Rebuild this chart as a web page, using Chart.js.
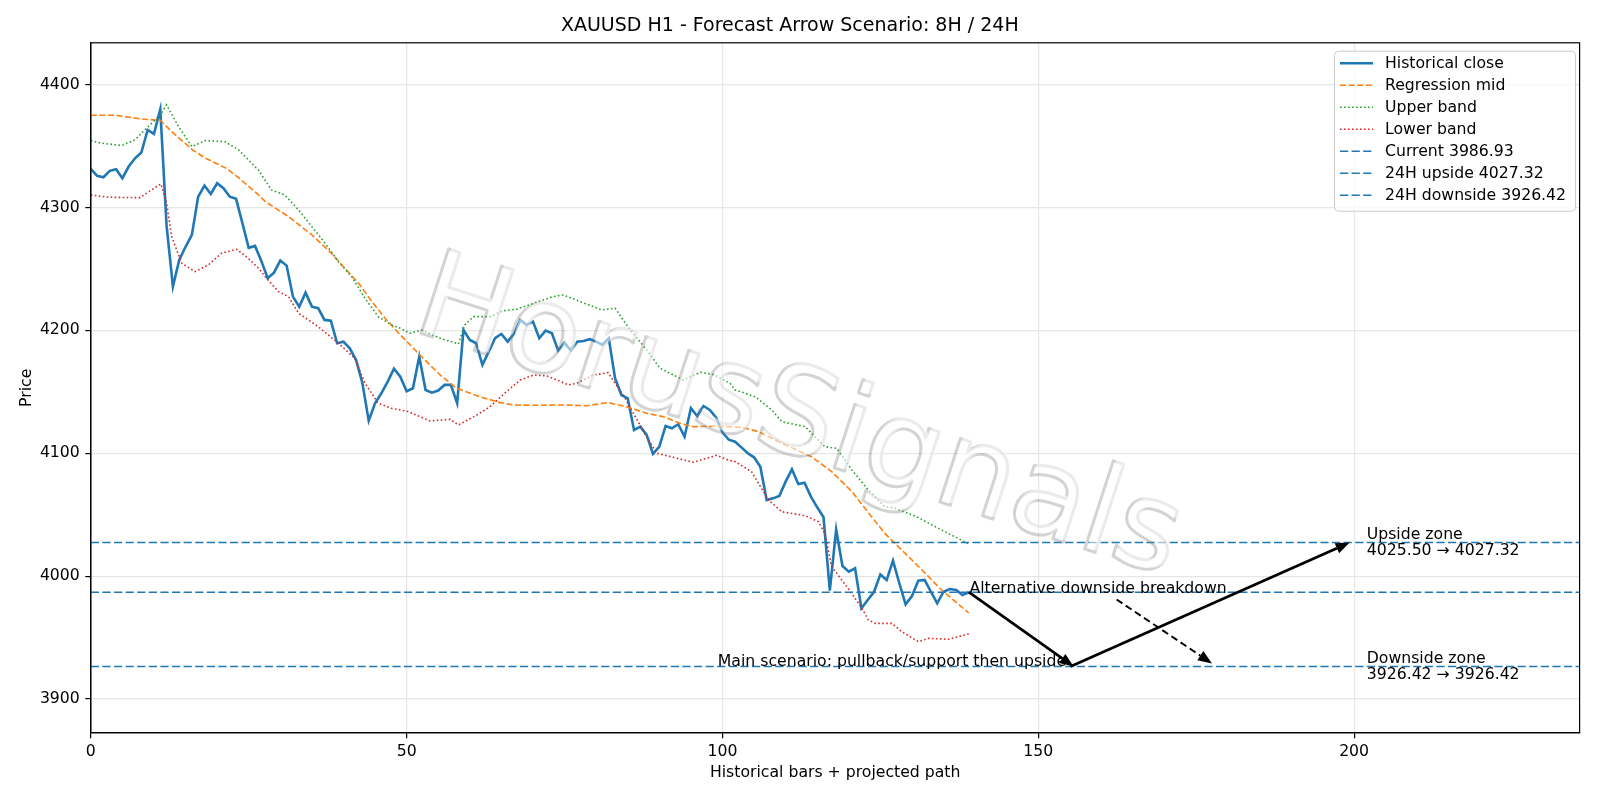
<!DOCTYPE html>
<html>
<head>
<meta charset="utf-8">
<title>XAUUSD H1 forecast</title>
<script src="https://cdn.jsdelivr.net/npm/chart.js@4.4.1/dist/chart.umd.min.js"></script>
<style>
  html, body { margin: 0; padding: 0; background: #fff; }
</style>
</head>
<body>
<canvas id="myChart" width="1600" height="800"></canvas>
<script>
"use strict";

// ---- data ----
var closeY = [
  4331.4, 4325.7, 4324.6, 4329.8, 4331.1, 4323.8, 4333.3, 4340.0, 4344.7, 4363.1,
  4359.9, 4380.0, 4285.0, 4235.6, 4257.3, 4268.0, 4277.7, 4308.8, 4317.8, 4311.0,
  4319.7, 4315.7, 4308.8, 4307.0, 4287.2, 4267.2, 4268.7, 4256.5, 4242.4, 4247.0,
  4256.8, 4252.7, 4227.5, 4219.3, 4230.7, 4219.3, 4218.0, 4208.5, 4207.9, 4189.5,
  4190.8, 4185.4, 4175.9, 4157.0, 4126.5, 4140.7, 4148.8, 4158.3, 4168.9, 4162.3,
  4150.5, 4152.9, 4178.6, 4151.5, 4149.3, 4151.0, 4155.6, 4155.6, 4140.7, 4200.3,
  4192.2, 4189.5, 4171.9, 4182.7, 4193.6, 4197.1, 4190.8, 4197.1, 4208.5, 4204.4,
  4207.1, 4193.6, 4199.8, 4197.6, 4183.5, 4190.0, 4183.5, 4190.8, 4191.4, 4192.8,
  4190.8, 4188.1, 4193.6, 4161.0, 4147.4, 4144.7, 4118.9, 4121.6, 4114.9, 4099.4,
  4105.4, 4122.2, 4120.3, 4123.6, 4113.5, 4136.6, 4130.3, 4138.5, 4135.2, 4129.0,
  4117.0, 4111.0, 4109.4, 4104.8, 4100.0, 4096.7, 4089.0, 4061.9, 4063.3, 4065.2,
  4076.9, 4086.9, 4075.0, 4076.1, 4064.7, 4056.0, 4047.9, 3988.2, 4038.0, 4008.2,
  4003.6, 4006.4, 3973.8, 3980.6, 3987.3, 4001.4, 3996.9, 4012.6, 3994.2, 3977.0,
  3983.8, 3996.3, 3996.9, 3987.3, 3977.9, 3987.3, 3989.5, 3988.7, 3984.6, 3986.93
];

var midX = [0, 4, 8, 11, 12.8, 16.1, 18.2, 21.4, 23.5, 24.4, 26.9, 27.6, 31.3, 35, 38.1, 40.2, 42.4, 44.5,
  46.6, 49, 50.3, 52.1, 55.3, 57.9, 61.6, 64.8, 66.9, 70, 74.3, 78.5, 81.9, 84.8, 88, 90.6, 93.3, 95.4,
  98.8, 100.7, 103.1, 105.7, 109.4, 114.1, 117.3, 120.5, 123.6, 125.7, 127.3, 131.6, 134.7, 139];
var midY = [4375, 4375, 4372, 4371, 4361.7, 4346.9, 4340, 4332, 4323.8, 4319.7, 4308.8, 4304.8, 4292.6, 4277.7,
  4262.8, 4250.6, 4238.3, 4223.4, 4209.9, 4196.3, 4189.5, 4180, 4163.7, 4152.9, 4146, 4141.2, 4139.3, 4139,
  4139.3, 4138.7, 4141.2, 4137.9, 4132.5, 4129.8, 4124.4, 4121.6, 4122, 4121.6, 4121.1, 4117.6, 4108.1,
  4097.2, 4085, 4068.7, 4048.4, 4034.8, 4026.7, 4005, 3988.7, 3970];

var upperX = [0, 1.7, 4.9, 7, 8.8, 11, 12, 13.9, 16, 18.1, 21.2, 23.4, 26.6, 28.6, 30.7, 32.9, 35, 37.1, 39.2,
  41.3, 43.4, 45.5, 47.6, 49, 50.5, 52.4, 55.3, 58.2, 59.2, 60.6, 63.2, 65.3, 67.4, 70.1, 73.2, 74.8, 77.5,
  80.9, 83, 85.4, 88, 90.1, 93.8, 96.5, 98.6, 101.2, 102, 105.2, 107.8, 109.4, 113.1, 116.2, 118.1, 120.5,
  123.1, 125.7, 127.3, 130.5, 134.7, 139];
var upperY = [4354.4, 4352.3, 4350.4, 4355, 4364.5, 4375.3, 4383.5, 4365.8, 4349.5, 4354.4, 4353.6, 4346.9,
  4330, 4314.3, 4310.2, 4298, 4284.4, 4270.9, 4255.9, 4243.7, 4226.1, 4211.2, 4204.4, 4201.7, 4197.6, 4200.3,
  4193.6, 4188.9, 4204.4, 4211.2, 4211.2, 4216, 4217.2, 4222, 4227.5, 4228.8, 4223.4, 4216.6, 4218, 4200.3,
  4184.1, 4169.2, 4159.6, 4165.9, 4164, 4156.9, 4151.5, 4146, 4135.2, 4125.7, 4121.6, 4105.4, 4104, 4086.4,
  4070.1, 4056.5, 4055.2, 4048.9, 4037.6, 4026.2];

var lowerX = [0, 2.8, 7.8, 9.6, 11.1, 12, 12.8, 14.4, 16.5, 18.6, 20.7, 23.1, 24.9, 26.8, 27.6, 29.7, 31.3,
  32.9, 36, 39.2, 41.8, 43.4, 45.5, 47.6, 50.3, 51.1, 53.7, 56.9, 58.2, 61.1, 63.2, 65.8, 68, 70.1, 72.2,
  73.8, 75.6, 76.9, 79.6, 81.9, 83, 84.3, 85.9, 88, 89.6, 92.2, 95.4, 99.1, 100.9, 102, 104.6, 107.3, 109.4,
  113.1, 115.2, 116.2, 117.3, 119.9, 122.1, 123.1, 124.2, 126.8, 128.4, 131, 132.6, 135.8, 139];
var lowerY = [4310.2, 4308.3, 4308, 4314.3, 4319.2, 4303.5, 4276.3, 4254.6, 4247.8, 4253.2, 4262.8, 4266,
  4258.7, 4249.2, 4243.7, 4231.5, 4227.5, 4213.9, 4203, 4189.5, 4177.3, 4157, 4140.7, 4136.6, 4133.9, 4132,
  4126.3, 4127.6, 4123, 4131.1, 4137.9, 4150.1, 4159.6, 4163.7, 4162.9, 4159.6, 4155.6, 4156.9, 4163.7,
  4165.6, 4156.9, 4147.4, 4132.5, 4113.5, 4100, 4096.7, 4092.7, 4098.3, 4094.5, 4093.2, 4085, 4061.9, 4052.4,
  4049.2, 4044.3, 4034.8, 4007.7, 3990, 3973.8, 3964.3, 3961.6, 3961.6, 3954.8, 3946.7, 3949.4, 3948.6, 3953];

var currentPrice = 3986.93;
var upside24 = 4027.32;
var downside24 = 3926.42;
var upsideZone = [4025.50, 4027.32];
var downsideZone = [3926.42, 3926.42];

// projected path: main scenario (down then up) and the alternative breakdown
var mainPathX = [139, 155.6, 199.3];
var mainPathY = [3986.93, 3926.42, 4027.32];
var altPathX = [162.4, 177.5];
var altPathY = [3981.0, 3929.0];

var xTicks = [0, 50, 100, 150, 200];
var yTicks = [3900, 4000, 4100, 4200, 4300, 4400];
var xMax = 235.7;
var yMin = 3872.6;
var yMax = 4434.0;

var FONT = "'DejaVu Sans', sans-serif";
var FS = 15.7;

function pts(xs, ys) {
  return xs.map(function (x, i) { return { x: x, y: ys[i] }; });
}
function hline(v) {
  return [{ x: 0, y: v }, { x: xMax, y: v }];
}

var blue = '#1f77b4';
var datasets = [
  { label: 'Historical close', data: closeY.map(function (v, i) { return { x: i, y: v }; }),
    borderColor: blue, borderWidth: 2.6, order: 7 },
  { label: 'Regression mid', data: pts(midX, midY), borderColor: '#ff7f0e', borderWidth: 1.6,
    borderDash: [6, 2.6], order: 6 },
  { label: 'Upper band', data: pts(upperX, upperY), borderColor: '#2ca02c', borderWidth: 1.6,
    borderDash: [1.6, 2.4], order: 5 },
  { label: 'Lower band', data: pts(lowerX, lowerY), borderColor: '#d62728', borderWidth: 1.6,
    borderDash: [1.6, 2.4], order: 4 },
  { label: 'Current ' + currentPrice.toFixed(2), data: hline(currentPrice), borderColor: blue,
    borderWidth: 1.4, borderDash: [8.2, 3.4], order: 3 },
  { label: '24H upside ' + upside24.toFixed(2), data: hline(upside24), borderColor: blue,
    borderWidth: 1.4, borderDash: [8.2, 3.4], order: 2 },
  { label: '24H downside ' + downside24.toFixed(2), data: hline(downside24), borderColor: blue,
    borderWidth: 1.4, borderDash: [8.2, 3.4], order: 1 }
];
datasets.forEach(function (d) {
  d.pointRadius = 0;
  d.tension = 0;
  d.fill = false;
});

function drawArrow(ctx, x0, y0, x1, y1, lw, dash) {
  var a = Math.atan2(y1 - y0, x1 - x0);
  var hl = 14, hw = 5.5;
  var bx = x1 - hl * Math.cos(a), by = y1 - hl * Math.sin(a);
  ctx.save();
  ctx.strokeStyle = '#000';
  ctx.fillStyle = '#000';
  ctx.lineWidth = lw;
  ctx.setLineDash(dash || []);
  ctx.beginPath();
  ctx.moveTo(x0, y0);
  ctx.lineTo(bx, by);
  ctx.stroke();
  ctx.setLineDash([]);
  ctx.beginPath();
  ctx.moveTo(x1, y1);
  ctx.lineTo(bx + hw * Math.sin(a), by - hw * Math.cos(a));
  ctx.lineTo(bx - hw * Math.sin(a), by + hw * Math.cos(a));
  ctx.closePath();
  ctx.fill();
  ctx.restore();
}

var overlay = {
  id: 'overlay',
  afterDatasetsDraw: function (chart) {
    // watermark
    var ctx = chart.ctx;
    ctx.save();
    ctx.translate(801, 421);
    ctx.rotate(18 * Math.PI / 180);
    ctx.font = '122px ' + FONT;
    ctx.textAlign = 'center';
    ctx.textBaseline = 'middle';
    ctx.strokeStyle = 'rgba(130,130,130,0.35)';
    ctx.lineWidth = 3;
    ctx.lineJoin = 'round';
    ctx.strokeText('HorusSignals', -2.5, 2.5);
    ctx.fillStyle = 'rgba(255,255,255,0.55)';
    ctx.fillText('HorusSignals', 0, 0);
    ctx.restore();
  },
  afterDraw: function (chart) {
    var ctx = chart.ctx, a = chart.chartArea;
    var sx = chart.scales.x, sy = chart.scales.y;

    // top and right spines
    ctx.save();
    ctx.strokeStyle = '#000';
    ctx.lineWidth = 1.2;
    ctx.strokeRect(a.left, a.top, a.right - a.left, a.bottom - a.top);
    ctx.restore();

    // arrows
    drawArrow(ctx, sx.getPixelForValue(mainPathX[0]), sy.getPixelForValue(mainPathY[0]),
      sx.getPixelForValue(mainPathX[1]), sy.getPixelForValue(mainPathY[1]), 2.7);
    drawArrow(ctx, sx.getPixelForValue(mainPathX[1] - 0.5), sy.getPixelForValue(mainPathY[1]),
      sx.getPixelForValue(mainPathX[2]), sy.getPixelForValue(mainPathY[2]), 2.7);
    drawArrow(ctx, sx.getPixelForValue(altPathX[0]), sy.getPixelForValue(altPathY[0]),
      sx.getPixelForValue(altPathX[1]), sy.getPixelForValue(altPathY[1]), 1.9, [7, 4]);

    // annotation texts
    ctx.save();
    ctx.font = FS + 'px ' + FONT;
    ctx.fillStyle = '#000';
    ctx.textBaseline = 'alphabetic';
    ctx.textAlign = 'left';
    ctx.fillText('Alternative downside breakdown', sx.getPixelForValue(139.1), sy.getPixelForValue(currentPrice) + 0.5);
    ctx.textAlign = 'right';
    ctx.fillText('Main scenario: pullback/support then upside', sx.getPixelForValue(154.4), sy.getPixelForValue(downside24) - 1);
    ctx.textAlign = 'left';
    var zx = sx.getPixelForValue(202);
    var uy = sy.getPixelForValue(upside24);
    ctx.fillText('Upside zone', zx, uy - 3.5);
    ctx.fillText(upsideZone[0].toFixed(2) + ' \u2192 ' + upsideZone[1].toFixed(2), zx, uy + 12.5);
    var dy = sy.getPixelForValue(downside24);
    ctx.fillText('Downside zone', zx, dy - 3.5);
    ctx.fillText(downsideZone[0].toFixed(2) + ' \u2192 ' + downsideZone[1].toFixed(2), zx, dy + 12.5);
    ctx.restore();

    // legend
    ctx.save();
    var lx = 1334, ly = 50.7, lw = 241, lh = 160;
    ctx.fillStyle = 'rgba(255,255,255,0.8)';
    ctx.strokeStyle = '#cccccc';
    ctx.lineWidth = 1;
    ctx.beginPath();
    ctx.roundRect(lx + 0.5, ly + 0.5, lw, lh, 4);
    ctx.fill();
    ctx.stroke();
    ctx.font = FS + 'px ' + FONT;
    ctx.textBaseline = 'middle';
    ctx.textAlign = 'left';
    chart.data.datasets.forEach(function (d, k) {
      var yy = 63.3 + 22 * k;
      ctx.strokeStyle = d.borderColor;
      ctx.lineWidth = d.borderWidth;
      ctx.setLineDash(d.borderDash || []);
      ctx.beginPath();
      ctx.moveTo(1340, yy);
      ctx.lineTo(1373, yy);
      ctx.stroke();
      ctx.setLineDash([]);
      ctx.fillStyle = '#000';
      ctx.fillText(d.label, 1385, yy + 1);
    });
    ctx.restore();
  }
};

new Chart(document.getElementById('myChart'), {
  type: 'line',
  data: { datasets: datasets },
  plugins: [overlay],
  options: {
    responsive: false,
    animation: false,
    devicePixelRatio: 1,
    layout: { padding: { left: 0, right: 20.4, top: 0, bottom: 0 } },
    plugins: {
      legend: { display: false },
      tooltip: { enabled: false },
      title: {
        display: true,
        text: 'XAUUSD H1 - Forecast Arrow Scenario: 8H / 24H',
        color: '#000',
        font: { family: FONT, size: 19, weight: 'normal' },
        padding: { top: 15, bottom: 5 }
      }
    },
    scales: {
      x: {
        type: 'linear',
        min: 0,
        max: xMax,
        afterBuildTicks: function (s) { s.ticks = xTicks.map(function (v) { return { value: v }; }); },
        afterFit: function (s) { s.height = 67.3; },
        grid: { color: '#e6e6e6', lineWidth: 1.2, tickColor: '#000', tickLength: 5.5, tickWidth: 1.2 },
        border: { display: true, color: '#000', width: 1.2 },
        ticks: { color: '#000', font: { family: FONT, size: FS }, padding: 4, maxRotation: 0,
          callback: function (v) { return String(v); } },
        title: { display: true, text: 'Historical bars + projected path', color: '#000',
          font: { family: FONT, size: FS }, padding: { top: 0, bottom: 18 } }
      },
      y: {
        type: 'linear',
        min: yMin,
        max: yMax,
        afterBuildTicks: function (s) { s.ticks = yTicks.map(function (v) { return { value: v }; }); },
        afterFit: function (s) { s.width = 90.8; },
        grid: { color: '#e6e6e6', lineWidth: 1.2, tickColor: '#000', tickLength: 5.5, tickWidth: 1.2 },
        border: { display: true, color: '#000', width: 1.2 },
        ticks: { color: '#000', font: { family: FONT, size: FS }, padding: 5.5,
          callback: function (v) { return String(v); } },
        title: { display: true, text: 'Price', color: '#000',
          font: { family: FONT, size: FS }, padding: { top: 18, bottom: 0 } }
      }
    }
  }
});
</script>
</body>
</html>
